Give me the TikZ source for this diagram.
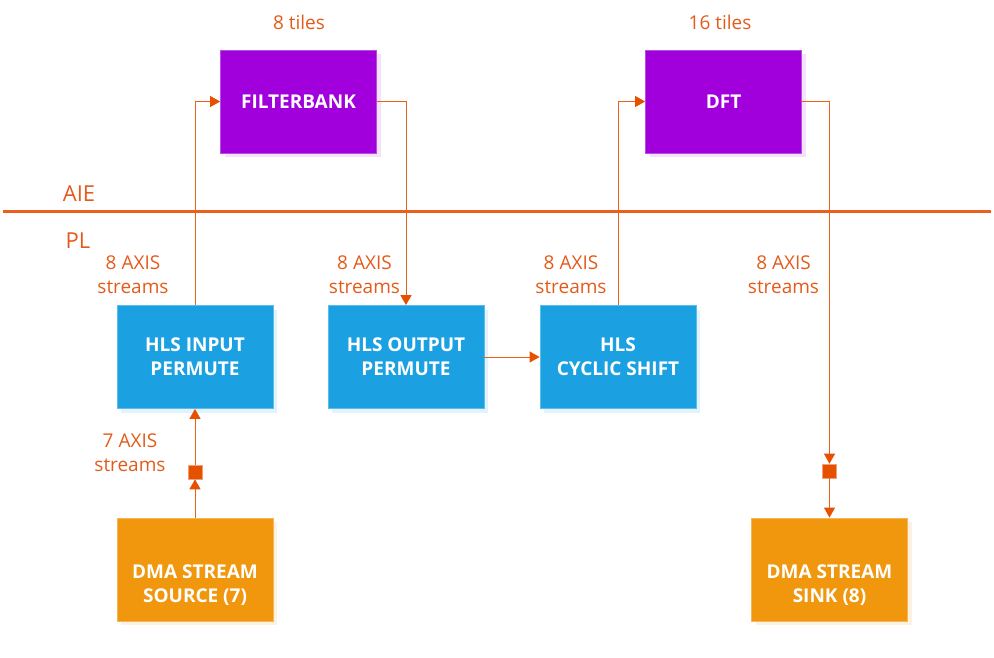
\documentclass[tikz,border=0pt]{standalone}
\usepackage{fontspec}
\setmainfont{Open Sans}
\usetikzlibrary{arrows.meta,shadows}
\definecolor{aiepurple}{HTML}{A100DD}
\definecolor{purpleedge}{HTML}{B84DE6}
\definecolor{purpleshadow}{HTML}{F4E2FB}
\definecolor{hlsblue}{HTML}{1BA1E2}
\definecolor{blueedge}{HTML}{5CBDEB}
\definecolor{blueshadow}{HTML}{E3F3FC}
\definecolor{dmaorange}{HTML}{F0970D}
\definecolor{orangeedge}{HTML}{F5B55A}
\definecolor{orangeshadow}{HTML}{FDF1E1}
\definecolor{linkorange}{HTML}{E8601C}
\definecolor{txtorange}{HTML}{E35B1B}
\definecolor{mkorange}{HTML}{E65100}
\begin{document}
\begin{tikzpicture}[x=1pt,y=-1pt,
  boxtext/.style={text=white,align=center,font=\fontsize{19}{24}\selectfont\bfseries,inner sep=0pt},
  box/.style={minimum width=156pt,minimum height=103pt,inner sep=0pt,boxtext,line width=0.8pt},
  aiebox/.style={box,fill=aiepurple,draw=purpleedge,
    general shadow={fill=purpleshadow,shadow xshift=4pt,shadow yshift=-4pt}},
  hlsbox/.style={box,fill=hlsblue,draw=blueedge,
    general shadow={fill=blueshadow,shadow xshift=4pt,shadow yshift=-4pt}},
  dmabox/.style={box,fill=dmaorange,draw=orangeedge,
    general shadow={fill=orangeshadow,shadow xshift=4pt,shadow yshift=-4pt}},
  lbl/.style={text=txtorange,align=center,font=\fontsize{19}{24}\selectfont,inner sep=0pt},
  big/.style={text=txtorange,font=\fontsize{22}{24}\selectfont,inner sep=0pt},
  conn/.style={draw=linkorange,line width=1pt,-{Triangle[length=10pt,width=11pt,color=mkorange]}},
  marker/.style={fill=mkorange,draw=linkorange!60,line width=0.6pt,minimum size=14pt,inner sep=0pt}
]
\useasboundingbox (0,0) rectangle (994,658);

% layer divider
\coordinate (divL) at (3,212);
\coordinate (divR) at (991,212);
\draw[linkorange,line width=3pt] (divL) -- (divR);
\node[big] (aie) at (79,193.5) {AIE};
\node[big] (pl) at (78,240.5) {PL};

% AIE kernels
\node[aiebox] (fb) at (298.5,101.5) {FILTERBANK};
\node[aiebox] (dft) at (723.5,101.5) {DFT};
\node[lbl] (t8) at (299,22.5) {8 tiles};
\node[lbl] (t16) at (720,22.5) {16 tiles};

% PL blocks
\node[hlsbox] (hin) at (195,357) {HLS INPUT\\PERMUTE};
\node[hlsbox] (hout) at (406,357) {HLS OUTPUT\\PERMUTE};
\node[hlsbox] (cyc) at (618,357) {HLS\\CYCLIC SHIFT};
\node[dmabox,label={[boxtext,yshift=-16pt]center:DMA STREAM\\SOURCE (7)}] (src) at (195,569.5) {};
\node[dmabox,label={[boxtext,yshift=-16pt]center:DMA STREAM\\SINK (8)}] (sink) at (829.5,569.5) {};

% markers
\node[marker] (sq1) at (195,472) {};
\node[marker] (sq2) at (829.5,471) {};

% labels
\node[lbl] (l1) at (133,275) {8 AXIS\\streams};
\node[lbl] (l2) at (364.5,275) {8 AXIS\\streams};
\node[lbl] (l3) at (571,275) {8 AXIS\\streams};
\node[lbl] (l4) at (783.5,275) {8 AXIS\\streams};
\node[lbl] (l5) at (130,453) {7 AXIS\\streams};

% connectors
\draw[conn] (hin.north) |- (fb.west);
\draw[conn] (fb.east) -| (hout.north);
\draw[conn] (hout.east) -- (cyc.west);
\draw[conn] (cyc.north) |- (dft.west);
\draw[conn] (dft.east) -| (sq2.north);
\draw[conn] (sq2.south) -- (sink.north);
\draw[conn] (src.north) -- (sq1.south);
\draw[conn] (sq1.north) -- (hin.south);
\end{tikzpicture}
\end{document}
